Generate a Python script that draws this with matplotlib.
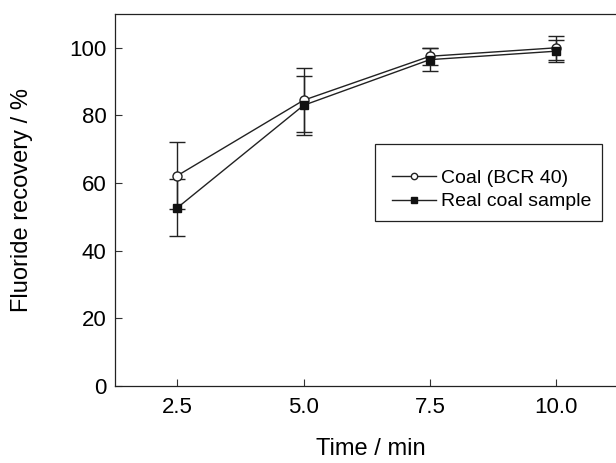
import matplotlib.pyplot as plt
from matplotlib.patches import Rectangle

plt.rcParams['font.family'] = ['Liberation Sans', 'DejaVu Sans']

time = [2.5, 5.0, 7.5, 10.0]
coal_bcr = [62.2, 84.5, 97.5, 100.0]
coal_bcr_err = [9.8, 9.5, 2.5, 3.5]
real_coal = [52.7, 83.0, 96.5, 99.0]
real_coal_err = [8.4, 8.7, 3.5, 3.3]

fig = plt.figure(figsize=(6.16, 4.63), dpi=100)
ax = fig.add_axes([0.1867, 0.1663, 0.831, 0.8035])

ax.errorbar(time, coal_bcr, yerr=coal_bcr_err, color='#222222', lw=1.0,
            marker='o', ms=6.5, mfc='white', mec='#222222', capsize=6,
            elinewidth=1.0, capthick=1.0, label='Coal (BCR 40)', zorder=3)
ax.errorbar(time, real_coal, yerr=real_coal_err, color='#222222', lw=1.0,
            marker='s', ms=6, mfc='#111111', mec='#111111', capsize=6,
            elinewidth=1.0, capthick=1.0, label='Real coal sample', zorder=3)

ax.set_xlim(1.266, 11.4)
ax.set_ylim(0, 110)
ax.set_xticks(time)
ax.set_xticklabels(['2.5', '5.0', '7.5', '10.0'])
ax.set_yticks([0, 20, 40, 60, 80, 100])
ax.tick_params(direction='in', length=5, labelsize=16, color='#333333')
ax.tick_params(axis='x', pad=8)
ax.tick_params(axis='y', pad=6)
ax.set_xlabel('Time / min', fontsize=17)
ax.set_ylabel('Fluoride recovery / %', fontsize=17)
ax.xaxis.set_label_coords(0.5, -0.141)
ax.yaxis.set_label_coords(-0.160, 0.5)
for s in ax.spines.values():
    s.set_linewidth(0.9)
    s.set_color('#222222')

# legend frame drawn separately (wide vertical padding, tight horizontal)
ax.add_patch(Rectangle((0.508, 0.4435), 0.443, 0.207, transform=ax.transAxes,
                       fill=True, facecolor='white', edgecolor='#222222',
                       lw=0.9, zorder=4))
h, l = ax.get_legend_handles_labels()
leg = ax.legend([hh[0] for hh in h], l, loc='center',
                bbox_to_anchor=(0.736, 0.527), borderaxespad=0, fontsize=14,
                frameon=False, handlelength=2.27, handletextpad=0.26,
                borderpad=0.2, labelspacing=0.3, markerscale=0.7)
leg.set_zorder(5)

plt.savefig('out.png', dpi=100)
